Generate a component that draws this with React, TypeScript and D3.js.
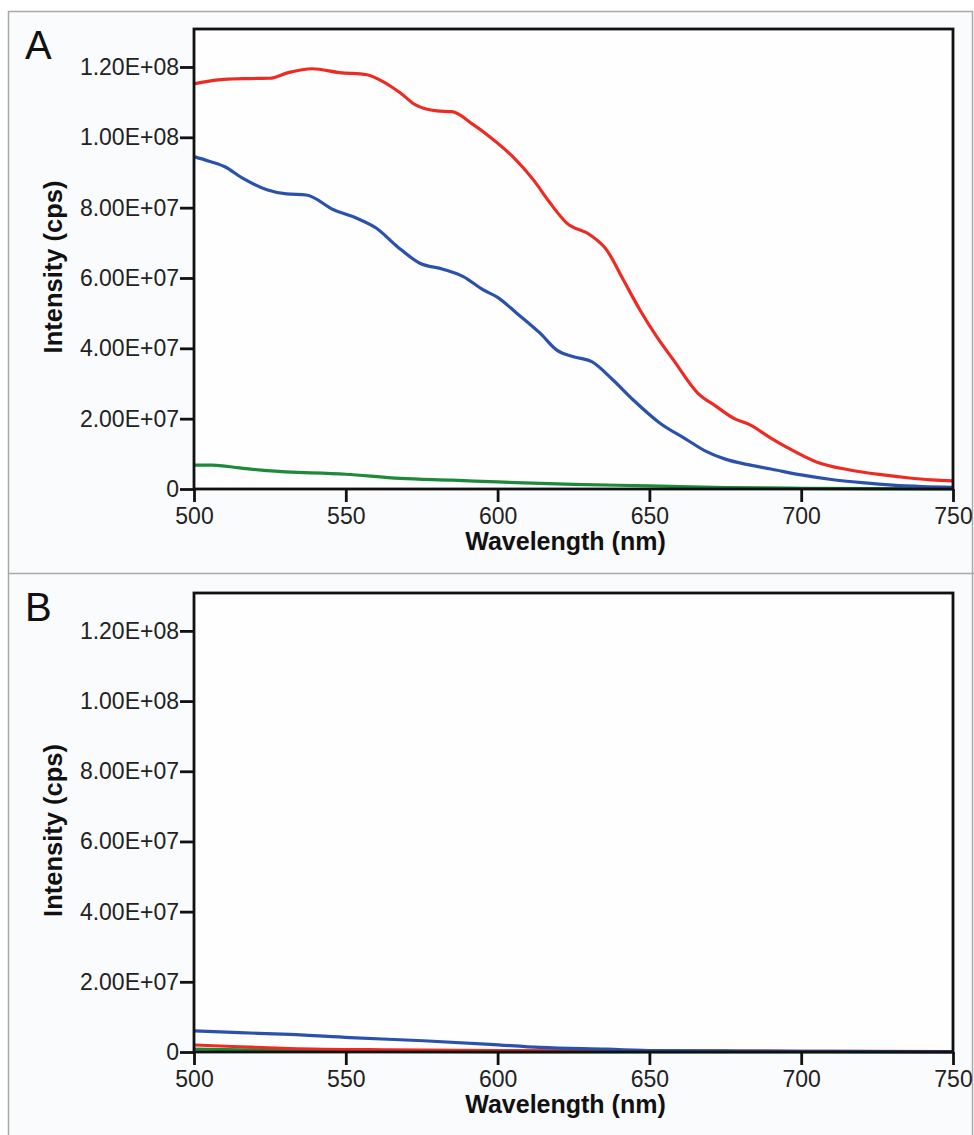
import * as d3 from "d3";
import { useEffect, useRef } from "react";

// wavelength (nm), intensity (cps)
const redA = [
  [500, 1.152e8], [505, 1.160e8], [510, 1.165e8], [518, 1.167e8], [525, 1.168e8],
  [531, 1.184e8], [539, 1.195e8], [548, 1.184e8], [557, 1.178e8], [561, 1.164e8],
  [568, 1.126e8], [573, 1.092e8], [580, 1.075e8], [585, 1.073e8], [592, 1.036e8],
  [597.5, 1.001e8], [605, 0.945e8], [611.8, 0.879e8], [617.3, 0.813e8], [622.8, 0.756e8],
  [630.4, 0.723e8], [635.9, 0.680e8], [641.4, 0.595e8], [646.9, 0.509e8], [652.4, 0.433e8],
  [657.9, 0.367e8], [666, 0.272e8], [672, 0.235e8], [678, 0.200e8], [683, 0.183e8],
  [690, 0.145e8], [695, 0.120e8], [705, 0.077e8], [716, 0.054e8], [727, 0.040e8],
  [735, 0.032e8], [743, 0.026e8], [750, 0.023e8],
];
const blueA = [
  [500, 0.945e8], [505, 0.932e8], [510, 0.917e8], [516, 0.884e8], [524, 0.851e8],
  [530.5, 0.839e8], [537, 0.836e8], [546, 0.794e8], [553.6, 0.770e8], [560, 0.742e8],
  [567, 0.689e8], [574.4, 0.642e8], [582, 0.625e8], [588.7, 0.604e8], [595.3, 0.566e8],
  [600, 0.545e8], [606.3, 0.500e8], [614, 0.443e8], [619.5, 0.395e8], [625, 0.376e8],
  [631, 0.362e8], [638, 0.310e8], [644.7, 0.253e8], [653.5, 0.187e8], [662, 0.142e8],
  [668, 0.110e8], [675, 0.085e8], [682, 0.070e8], [690, 0.057e8], [700, 0.040e8],
  [710, 0.027e8], [720, 0.018e8], [730, 0.011e8], [740, 0.007e8], [750, 0.005e8],
];
const greenA = [
  [500, 0.068e8], [506, 0.068e8], [515, 0.060e8], [524, 0.052e8], [550, 0.042e8],
  [568, 0.030e8], [585, 0.025e8], [600, 0.020e8], [625, 0.013e8], [650, 0.009e8],
  [675, 0.004e8], [700, 0.002e8], [725, 0.001e8], [750, 0.0005e8],
];
const blueB = [
  [500, 0.060e8], [515, 0.055e8], [531.6, 0.050e8], [551.4, 0.041e8], [575.5, 0.032e8],
  [597.5, 0.022e8], [614, 0.013e8], [636, 0.008e8], [652, 0.004e8], [675, 0.003e8],
  [700, 0.002e8], [725, 0.001e8], [750, 0.0005e8],
];
const redB = [
  [500, 0.020e8], [515, 0.015e8], [531.6, 0.010e8], [564.5, 0.006e8], [600, 0.004e8],
  [650, 0.003e8], [700, 0.002e8], [750, 0.001e8],
];
const greenB = [
  [500, 0.008e8], [520, 0.006e8], [540, 0.004e8], [560, 0.0015e8], [600, 0.0005e8], [750, 0],
];

const xTicks = [500, 550, 600, 650, 700, 750];
const yTicks = [0, 2e7, 4e7, 6e7, 8e7, 1e8, 1.2e8];
const yTickLabels = ["0", "2.00E+07", "4.00E+07", "6.00E+07", "8.00E+07", "1.00E+08", "1.20E+08"];

const colors = { red: "#ee2b22", blue: "#2a52ac", green: "#1c8a3a" };

const W = 974;
const H = 1135;

const panels = [
  { letter: "A", top: 11.5, plotTop: 29, plotBottom: 489, series: [[greenA, colors.green], [blueA, colors.blue], [redA, colors.red]] },
  { letter: "B", top: 573.5, plotTop: 593, plotBottom: 1052, series: [[greenB, colors.green], [redB, colors.red], [blueB, colors.blue]] },
];

const App = () => {
  const ref = useRef(null);

  useEffect(() => {
    const svg = d3.select(ref.current);
    svg.selectAll("*").remove();

    svg.append("rect").attr("width", W).attr("height", H).attr("fill", "#ffffff");
    svg.append("rect")
      .attr("x", 8.5).attr("y", 11.5)
      .attr("width", W - 10).attr("height", H)
      .attr("fill", "#fafbfd")
      .attr("stroke", "#a9a9a9")
      .attr("stroke-width", 1.5);
    svg.append("line")
      .attr("x1", 8.5).attr("x2", W)
      .attr("y1", 573.5).attr("y2", 573.5)
      .attr("stroke", "#a9a9a9")
      .attr("stroke-width", 1.5);

    const left = 194;
    const right = 953;
    const x = d3.scaleLinear().domain([500, 750]).range([left, right]);
    const font = "'Liberation Sans', Arial, sans-serif";

    panels.forEach(p => {
      const y = d3.scaleLinear().domain([0, 1.308e8]).range([p.plotBottom, p.plotTop]);
      const g = svg.append("g");

      g.append("rect")
        .attr("x", left).attr("y", p.plotTop)
        .attr("width", right - left).attr("height", p.plotBottom - p.plotTop)
        .attr("fill", "#fefeff");

      const line = d3.line()
        .x(d => x(d[0]))
        .y(d => y(d[1]))
        .curve(d3.curveMonotoneX);

      p.series.forEach(([data, color]) => {
        g.append("path")
          .datum(data)
          .attr("d", line)
          .attr("fill", "none")
          .attr("stroke", color)
          .attr("stroke-width", 3.2)
          .attr("stroke-linejoin", "round");
      });

      // frame
      g.append("rect")
        .attr("x", left).attr("y", p.plotTop)
        .attr("width", right - left).attr("height", p.plotBottom - p.plotTop)
        .attr("fill", "none")
        .attr("stroke", "#111")
        .attr("stroke-width", 2.8);

      const xAxis = d3.axisBottom(x).tickValues(xTicks).tickSize(13).tickPadding(6).tickFormat(d3.format("d"));
      const gx = g.append("g")
        .attr("transform", `translate(0, ${p.plotBottom})`)
        .call(xAxis);
      gx.select(".domain").remove();
      gx.selectAll("line").attr("stroke", "#111").attr("stroke-width", 2.8);
      gx.selectAll("text")
        .attr("font-family", font)
        .attr("font-size", 23)
        .attr("fill", "#222");

      const yAxis = d3.axisLeft(y).tickValues(yTicks).tickSize(14).tickPadding(1)
        .tickFormat((d, i) => yTickLabels[i]);
      const gy = g.append("g")
        .attr("transform", `translate(${left}, 0)`)
        .call(yAxis);
      gy.select(".domain").remove();
      gy.selectAll("line").attr("stroke", "#111").attr("stroke-width", 2.8);
      gy.selectAll("text")
        .attr("font-family", font)
        .attr("font-size", 23)
        .attr("fill", "#222");

      g.append("text")
        .attr("x", (left + right) / 2 - 8)
        .attr("y", p.plotBottom + 61)
        .attr("text-anchor", "middle")
        .attr("font-family", font)
        .attr("font-weight", "bold")
        .attr("font-size", 25)
        .attr("fill", "#111")
        .text("Wavelength (nm)");

      g.append("text")
        .attr("transform", `translate(62, ${(p.plotTop + p.plotBottom) / 2 + 8}) rotate(-90)`)
        .attr("text-anchor", "middle")
        .attr("font-family", font)
        .attr("font-weight", "bold")
        .attr("font-size", 25.5)
        .attr("fill", "#111")
        .text("Intensity (cps)");

      g.append("text")
        .attr("x", 25)
        .attr("y", p.top + 47.5)
        .attr("font-family", font)
        .attr("font-size", 40)
        .attr("fill", "#111")
        .text(p.letter);
    });
  }, []);

  return (
    <svg ref={ref} width={W} height={H}
      style={{ position: "absolute", left: 0, top: 0, display: "block" }}></svg>
  );
};

export default App;
